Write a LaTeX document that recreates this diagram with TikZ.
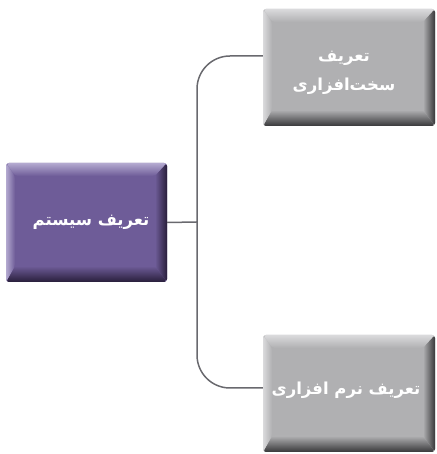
\documentclass[tikz,border=0pt]{standalone}
\usepackage{fontspec}
\usetikzlibrary{calc}
\TeXXeTstate=1
\newfontfamily\arabicfont[Script=Arabic]{DejaVu Sans}
\definecolor{pbase}{RGB}{110,92,152}
\definecolor{plight}{RGB}{180,170,208}
\definecolor{pdark}{RGB}{40,30,58}
\definecolor{gbase}{RGB}{176,176,178}
\definecolor{glight}{RGB}{218,218,220}
\definecolor{gdark}{RGB}{55,55,57}
\definecolor{linec}{RGB}{105,105,110}
\tikzset{
  bevel/.style n args={3}{
    rounded corners=3pt, fill=#1, draw=none, inner sep=0pt,
    path picture={
      \path (path picture bounding box.south west) coordinate (pA)
            (path picture bounding box.north east) coordinate (pB);
      \shade[top color=#2, bottom color=#1]
        (pA|-pB) -- (pB) -- ($(pB)+(-12pt,-13pt)$) -- ($(pA|-pB)+(9pt,-13pt)$) -- cycle;
      \shade[top color=#1, bottom color=#3]
        (pA) -- (pB|-pA) -- ($(pB|-pA)+(-12pt,16pt)$) -- ($(pA)+(9pt,16pt)$) -- cycle;
      \shade[left color=#2, right color=#1]
        (pA) -- (pA|-pB) -- ($(pA|-pB)+(9pt,-13pt)$) -- ($(pA)+(9pt,16pt)$) -- cycle;
      \shade[left color=#1, right color=#3]
        (pB|-pA) -- (pB) -- ($(pB)+(-12pt,-13pt)$) -- ($(pB|-pA)+(-12pt,16pt)$) -- cycle;
    }
  },
  label text/.style={text=white, align=center, inner sep=0pt,
    font=\arabicfont\bfseries\fontsize{16.5}{29}\selectfont},
  conn/.style={draw=linec, line width=1.5pt}
}
\begin{document}
\begin{tikzpicture}
\useasboundingbox (0pt,0pt) rectangle (436pt,454pt);
\node[bevel={pbase}{plight}{pdark}, minimum width=161pt, minimum height=119pt]
  (sys) at (86.5pt,231.5pt) {};
\node[label text] (syst) at (91pt,232pt) {\beginR تعریف سیستم\endR};
\node[bevel={gbase}{glight}{gdark}, minimum width=172pt, minimum height=117pt]
  (hw) at (349pt,386.5pt) {};
\node[label text] (hwt) at (344pt,381pt) {\beginR تعریف\endR\\\beginR سخت‌افزاری\endR};
\node[bevel={gbase}{glight}{gdark}, minimum width=172pt, minimum height=117pt]
  (sw) at (349pt,60.5pt) {};
\node[label text] (swt) at (346pt,64pt) {\beginR تعریف نرم افزاری\endR};
\coordinate (j) at (197pt,232pt);
\draw[conn] (sys.east) -- (j);
\draw[conn, rounded corners=33pt] (j) |- ($(hw.west)+(0,11.5pt)$);
\draw[conn, rounded corners=33pt] (j) |- ($(sw.west)+(0,5.5pt)$);
\end{tikzpicture}
\end{document}
